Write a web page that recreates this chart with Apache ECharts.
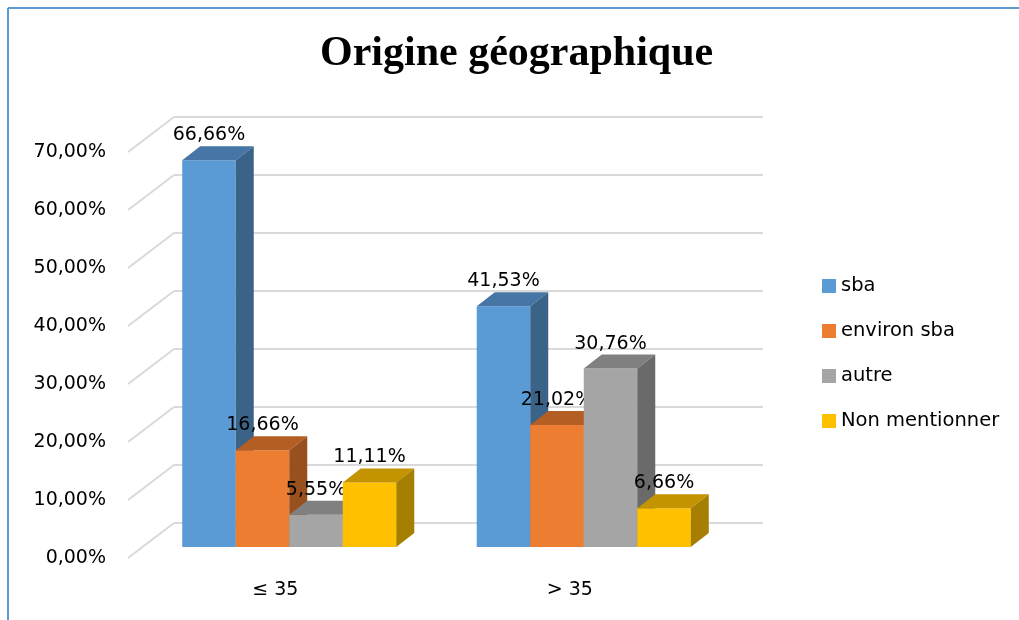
<!DOCTYPE html>
<html>
<head>
<meta charset="utf-8">
<script src="https://cdn.jsdelivr.net/npm/echarts@6/dist/echarts.min.js"></script>
<style>
html, body { margin: 0; padding: 0; background: #fff; }
#myChart { width: 1019px; height: 620px; }
</style>
</head>
<body>
<div id="myChart"></div>
<script>
var myChart = echarts.init(document.getElementById('myChart'));

// données (pourcentages)
var categories = ['≤ 35', '> 35'];
var seriesNames = ['sba', 'environ sba', 'autre', 'Non mentionner'];
var sba = [66.66, 41.53];
var environSba = [16.66, 21.02];
var autre = [5.55, 30.76];
var nonMentionner = [11.11, 6.66];
var yTicks = [0, 10, 20, 30, 40, 50, 60, 70];

// front / top / side colours
var palette = [
    ['#5B9BD5', '#4676A6', '#3A6387'],
    ['#ED7D31', '#B45E23', '#98501E'],
    ['#A5A5A5', '#808080', '#6A6A6A'],
    ['#FFC000', '#C49300', '#A67E00']
];

var FONT = 'DejaVu Sans';
var WALL_DX = -46, WALL_DY = 35;   // back wall -> front edge
var BAR_DX = 18, BAR_DY = -14;     // bar depth

function fmt(v) {
    return v.toFixed(2).replace('.', ',') + '%';
}

function makeBar(idx) {
    return function (params, api) {
        var base = api.coord([api.value(0), 0]);
        var top = api.coord([api.value(0), api.value(1)]);
        var band = api.size([1, 0])[0];
        var bw = band * 0.1817;
        var x0 = base[0] - 2 * bw + idx * bw;
        var x1 = x0 + bw;
        var c = palette[idx];
        return {
            type: 'group',
            children: [
                {type: 'rect', shape: {x: x0, y: top[1], width: bw, height: base[1] - top[1]}, style: {fill: c[0]}},
                {type: 'polygon', shape: {points: [[x0, top[1]], [x1, top[1]], [x1 + BAR_DX, top[1] + BAR_DY], [x0 + BAR_DX, top[1] + BAR_DY]]}, style: {fill: c[1]}},
                {type: 'polygon', shape: {points: [[x1, top[1]], [x1 + BAR_DX, top[1] + BAR_DY], [x1 + BAR_DX, base[1] + BAR_DY], [x1, base[1]]]}, style: {fill: c[2]}},
                {type: 'text', x: (x0 + x1) / 2, y: top[1] - 25, style: {text: fmt(api.value(1)), align: 'center', verticalAlign: 'middle', fill: '#000', font: '19px "' + FONT + '"'}}
            ]
        };
    };
}

function toPairs(arr) {
    var out = [];
    for (var i = 0; i < arr.length; i++) out.push([i, arr[i]]);
    return out;
}

var values = [sba, environSba, autre, nonMentionner];
var barSeries = [];
for (var s = 0; s < values.length; s++) {
    barSeries.push({
        name: seriesNames[s], type: 'custom', xAxisIndex: 2, yAxisIndex: 2,
        itemStyle: {color: palette[s][0]},
        data: toPairs(values[s]), encode: {x: 0, y: 1},
        renderItem: makeBar(s), clip: false, z: 3 + s
    });
}

myChart.setOption({
    animation: false,
    title: {
        text: 'Origine géographique', left: 320, top: 33, padding: 0,
        textStyle: {fontFamily: 'Liberation Serif', fontWeight: 'bold', fontSize: 42, color: '#000'}
    },
    legend: {
        orient: 'vertical', left: 817, top: 271, itemWidth: 14, itemHeight: 14, itemGap: 25,
        icon: 'rect', data: seriesNames,
        textStyle: {fontFamily: FONT, fontSize: 19.5, color: '#000'}
    },
    grid: [
        {left: 174, top: 117, width: 589, height: 406},
        {left: 128, top: 152, width: 589, height: 406},
        {left: 142, top: 141, width: 589, height: 406}
    ],
    xAxis: [
        {gridIndex: 0, type: 'value', min: 0, max: 1, show: false},
        {gridIndex: 1, type: 'category', data: categories, axisLine: {show: false}, axisTick: {show: false},
         axisLabel: {margin: 23, color: '#000', fontFamily: FONT, fontSize: 19}},
        {gridIndex: 2, type: 'category', data: categories, show: false}
    ],
    yAxis: [
        {gridIndex: 0, type: 'value', min: 0, max: 70, interval: 10, axisLine: {show: false}, axisTick: {show: false},
         axisLabel: {show: false}, splitLine: {lineStyle: {color: '#d9d9d9', width: 2}}},
        {gridIndex: 1, type: 'value', min: 0, max: 70, interval: 10, axisLine: {show: false}, axisTick: {show: false},
         splitLine: {show: false},
         axisLabel: {margin: 22, color: '#000', fontFamily: FONT, fontSize: 19, formatter: fmt}},
        {gridIndex: 2, type: 'value', min: 0, max: 70, interval: 10, show: false, splitLine: {show: false}}
    ],
    graphic: [
        {type: 'line', shape: {x1: 8, y1: 8, x2: 1019, y2: 8}, style: {stroke: '#5B9BD5', lineWidth: 2}},
        {type: 'line', shape: {x1: 8, y1: 8, x2: 8, y2: 620}, style: {stroke: '#5B9BD5', lineWidth: 2}}
    ],
    series: [{
        name: 'wall', type: 'custom', xAxisIndex: 0, yAxisIndex: 0,
        data: toPairs(yTicks).map(function (d) { return [0, d[1]]; }), encode: {x: 0, y: 1},
        clip: false, z: 1, silent: true,
        renderItem: function (params, api) {
            var p = api.coord([0, api.value(1)]);
            return {type: 'line', shape: {x1: p[0], y1: p[1], x2: p[0] + WALL_DX, y2: p[1] + WALL_DY},
                    style: {stroke: '#d9d9d9', lineWidth: 2}};
        }
    }].concat(barSeries)
});
window.onresize = myChart.resize;
</script>
</body>
</html>
